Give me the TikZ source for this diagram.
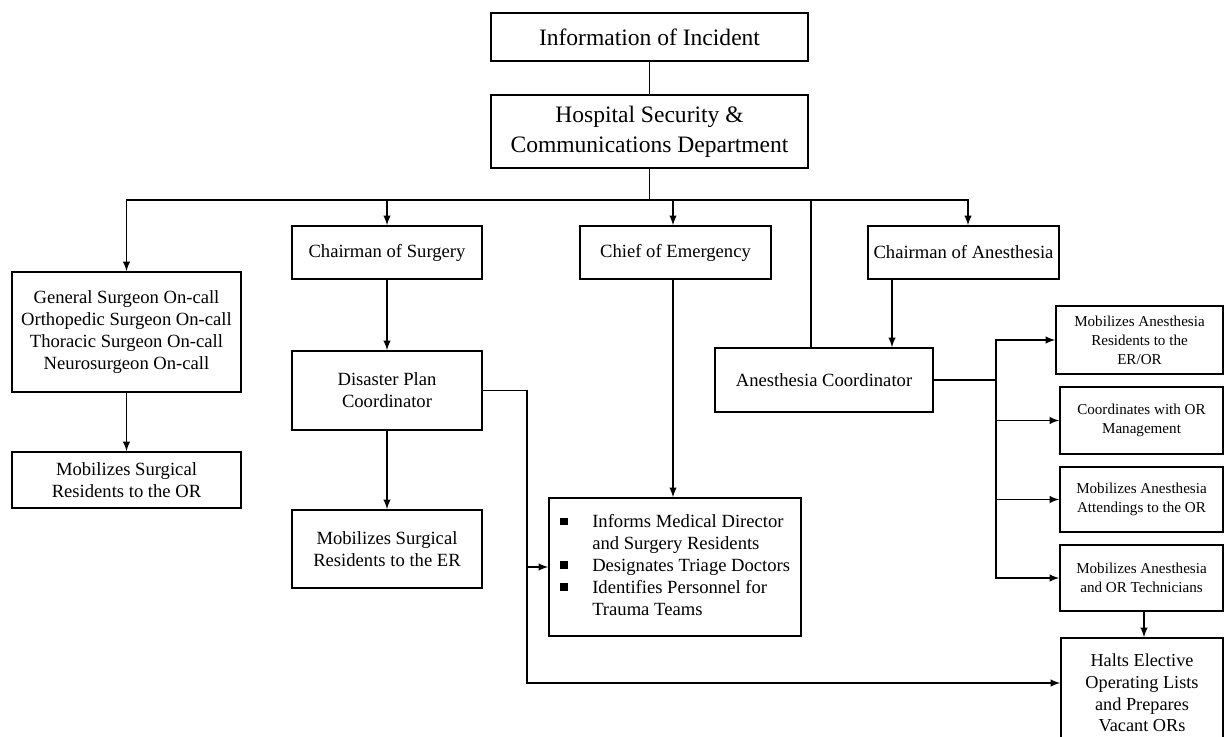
\documentclass[tikz,border=0pt]{standalone}
\usepackage{fontspec}
\setmainfont{Liberation Serif}
\usetikzlibrary{arrows}

\newcommand{\sqb}{\rule[0.25ex]{0.42em}{0.42em}}

\begin{document}
\begin{tikzpicture}[x=0.02cm, y=-0.02cm]

\tikzstyle{unit}=[rectangle, draw=black, line width=0.9pt, inner sep=0pt, align=center]
\tikzstyle{head}=[unit, font=\fontsize{13.4}{17}\selectfont]
\tikzstyle{role}=[unit, font=\fontsize{10.6}{12.5}\selectfont]
\tikzstyle{task}=[unit, font=\fontsize{8.6}{10.8}\selectfont]

\tikzstyle{connect}=[-latex, line width=0.9pt]
\tikzstyle{link}=[line width=0.9pt]

\useasboundingbox (0,0) rectangle (1224,737);

% top of the chain
\node[head, minimum width=6.34cm, minimum height=0.96cm] (info) at (649.5,37) {Information of Incident};
\node[head, minimum width=6.34cm, minimum height=1.46cm] (hosp) at (649.5,131.5) {Hospital Security \&\\Communications Department};

% second row
\node[role, minimum width=4.58cm, minimum height=2.40cm] (gen) at (126.5,332) {General Surgeon On-call\\Orthopedic Surgeon On-call\\Thoracic Surgeon On-call\\Neurosurgeon On-call};
\node[role, minimum width=3.80cm, minimum height=1.06cm] (chsurg) at (387,252.5) {Chairman of Surgery};
\node[role, minimum width=3.82cm, minimum height=1.06cm] (chemer) at (675.5,252.5) {Chief of Emergency};
\node[role, minimum width=3.82cm, minimum height=1.06cm] (chanes) at (963.5,252.5) {Chairman of Anesthesia};

% lower boxes
\node[role, minimum width=4.58cm, minimum height=1.12cm] (mobor) at (126.5,480) {Mobilizes Surgical\\Residents to the OR};
\node[role, minimum width=3.80cm, minimum height=1.58cm] (dpc) at (387,390.5) {Disaster Plan\\Coordinator};
\node[role, minimum width=3.80cm, minimum height=1.56cm] (mober) at (387,549) {Mobilizes Surgical\\Residents to the ER};
\node[role, minimum width=5.04cm, minimum height=2.76cm] (bullets) at (675,567) {\begin{tabular}{@{}l@{\hspace{14pt}}l@{}}
\sqb & Informs Medical Director\\
 & and Surgery Residents\\
\sqb & Designates Triage Doctors\\
\sqb & Identifies Personnel for\\
 & Trauma Teams
\end{tabular}};
\node[role, minimum width=4.36cm, minimum height=1.28cm] (anco) at (824,380) {Anesthesia Coordinator};

% anesthesia tasks
\node[task, minimum width=3.34cm, minimum height=1.36cm] (r1) at (1139.5,340) {Mobilizes Anesthesia\\Residents to the\\ER/OR};
\node[task, minimum width=3.26cm, minimum height=1.34cm] (r2) at (1141.5,420.5) {Coordinates with OR\\Management};
\node[task, minimum width=3.26cm, minimum height=1.30cm] (r3) at (1141.5,499.5) {Mobilizes Anesthesia\\Attendings to the OR};
\node[task, minimum width=3.26cm, minimum height=1.32cm] (r4) at (1141.5,578) {Mobilizes Anesthesia\\and OR Technicians};
\node[role, minimum width=3.24cm, minimum height=2.36cm] (halts) at (1142,697) {};
\node[role, draw=none, font=\fontsize{10.4}{12.3}\selectfont] (haltstxt) at (1142,693) {Halts Elective\\Operating Lists\\and Prepares\\Vacant ORs};

\coordinate (bus) at (649.5,200);
\coordinate (tap) at (811,200);
\coordinate (trunk) at (527,683);
\coordinate (hub) at (996,380);

\draw[link] (info) -- (hosp);
\draw[link] (hosp.south) -- (bus);
\draw[connect] (bus) -| (gen.north);
\draw[connect] (bus) -| ([xshift=0.09cm]chanes.north);
\draw[connect] (chsurg.north |- bus) -- (chsurg.north);
\draw[connect] ([xshift=-0.05cm]chemer.north |- bus) -- ([xshift=-0.05cm]chemer.north);
\draw[link] (tap) -- (tap |- anco.north);

\draw[connect] (gen) -- (mobor);
\draw[connect] (chsurg) -- (dpc);
\draw[connect] (dpc) -- (mober);
\draw[connect] ([xshift=-0.05cm]chemer.south) -- ([xshift=-0.05cm]chemer.south |- bullets.north);
\draw[connect] ([xshift=-1.43cm]chanes.south) -- ([xshift=-1.43cm]chanes.south |- anco.north);

\draw[connect] (dpc.east) -| (trunk) -- (trunk -| halts.west);
\draw[connect] (bullets.west -| trunk) -- (bullets.west);

\draw[link] (anco.east) -- (hub);
\draw[connect] (hub) |- (r1.west);
\draw[connect] (hub) |- (r4.west);
\draw[connect] (hub |- r2.west) -- (r2.west);
\draw[connect] (hub |- r3.west) -- (r3.west);
\draw[connect] ([xshift=0.05cm]r4.south) -- ([xshift=0.05cm]r4.south |- halts.north);

\end{tikzpicture}
\end{document}
